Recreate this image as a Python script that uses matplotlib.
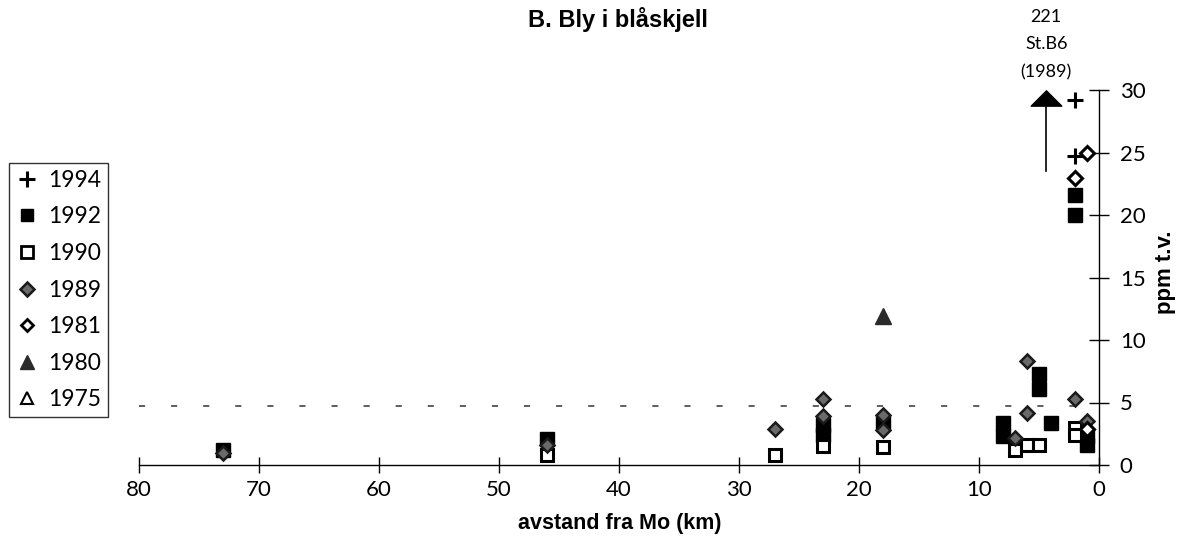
import matplotlib
matplotlib.use("Agg")
import matplotlib.pyplot as plt
from matplotlib.path import Path
from matplotlib.lines import Line2D

# ---------------- data (distance km, ppm t.v.) ----------------
x1994 = [2, 2]
y1994 = [29.2, 24.7]

x1992 = [73, 46, 23, 23, 18, 8, 8, 5, 5, 4, 2, 2, 1, 1]
y1992 = [1.2, 2.1, 3.2, 2.4, 3.4, 3.4, 2.3, 7.3, 6.1, 3.4, 21.6, 20.0, 2.3, 1.6]

x1990 = [46, 27, 23, 18, 7, 6, 5, 2, 2]
y1990 = [0.8, 0.8, 1.5, 1.45, 1.2, 1.6, 1.6, 3.0, 2.4]

x1989 = [73, 46, 27, 23, 23, 18, 18, 7, 6, 6, 2, 1]
y1989 = [1.0, 1.6, 2.9, 5.3, 3.9, 4.0, 2.8, 2.2, 8.3, 4.2, 5.3, 3.5]

x1981 = [1, 2, 1]
y1981 = [25.0, 23.0, 2.9]

x1980 = [18]
y1980 = [11.9]

x1975 = []
y1975 = []

# off-scale value at St.B6 (1989): 221 ppm, drawn as arrow at top
stb6_x = 4.4
stb6_y = 29.4
stb6_arrow_from = 23.5
stb6_label = ["221", "St.B6", "(1989)"]

limit_value = 4.7  # dashed reference line

xticks = [80, 70, 60, 50, 40, 30, 20, 10, 0]
yticks = [0, 5, 10, 15, 20, 25, 30]

# ---------------- figure ----------------
W, H = 1186, 558
fig = plt.figure(figsize=(W / 100, H / 100), dpi=100)
ax = fig.add_axes([139 / W, 1 - 465 / H, (1099 - 139) / W, (465 - 90) / H])

tick_font = "Lato"
bold_font = "Liberation Sans"

ax.set_xlim(80, 0)
ax.set_ylim(0, 30)
for s in ["top", "left"]:
    ax.spines[s].set_visible(False)
ax.spines["bottom"].set_linewidth(1.0)
ax.spines["right"].set_linewidth(1.0)
ax.yaxis.tick_right()
ax.yaxis.set_label_position("right")
ax.set_xticks(xticks)
ax.set_yticks(yticks)
ax.set_xticklabels([str(t) for t in xticks], fontfamily=tick_font, fontsize=16)
ax.set_yticklabels([str(t) for t in yticks], fontfamily=tick_font, fontsize=16)
ax.tick_params(axis="x", direction="inout", length=12, width=1, pad=5)
ax.tick_params(axis="y", direction="inout", length=14, width=1, pad=8)

# dashed reference line
ax.axhline(limit_value, color="#333333", lw=1.1, dashes=(4, 17), zorder=1)

common = dict(clip_on=False, linestyle="none")
ax.plot(x1992, y1992, marker="s", ms=10, mfc="black", mec="black", mew=1, zorder=3, **common)
ax.plot(x1990, y1990, marker="s", ms=9, mfc="white", mec="black", mew=2.2, zorder=4, **common)
ax.plot(x1989, y1989, marker="D", ms=7.5, mfc="#6a6a6a", mec="#1a1a1a", mew=1.8, zorder=5, **common)
ax.plot(x1981, y1981, marker="D", ms=7, mfc="white", mec="black", mew=2.2, zorder=6, **common)
ax.plot(x1980, y1980, marker="^", ms=12, mfc="#2a2a2a", mec="#2a2a2a", zorder=5, **common)
ax.plot(x1975, y1975, marker="^", ms=10, mfc="white", mec="black", mew=1.5, zorder=5, **common)
ax.plot(x1994, y1994, marker="+", ms=12, mec="black", mew=2.2, zorder=7, **common)

# St.B6 off-scale arrow
wide_tri = Path([(-1, -0.5), (1, -0.5), (0, 0.5), (-1, -0.5)],
                [Path.MOVETO, Path.LINETO, Path.LINETO, Path.CLOSEPOLY])
ax.plot([stb6_x, stb6_x], [stb6_arrow_from, stb6_y], color="black", lw=1.2, clip_on=False, zorder=6)
ax.plot([stb6_x], [stb6_y], marker=wide_tri, ms=22, mfc="black", mec="black", clip_on=False,
        linestyle="none", zorder=7)
for i, t in enumerate(stb6_label):
    ax.annotate(t, xy=(stb6_x, stb6_y), xytext=(0, 58 - i * 19.8), textcoords="offset points",
                ha="center", va="center", fontsize=13, fontfamily=tick_font)

# titles / labels
fig.text(618 / W, 1 - 19 / H, "B. Bly i blåskjell", ha="center", va="center",
         fontsize=17, fontweight="bold", fontfamily=bold_font)
fig.text(620 / W, 1 - 523 / H, "avstand fra Mo (km)", ha="center", va="center",
         fontsize=15.5, fontweight="bold", fontfamily=bold_font)
fig.text(1166 / W, 1 - 272 / H, "ppm t.v.", ha="center", va="center", rotation=90,
         fontsize=16, fontweight="bold", fontfamily=bold_font)

# legend
handles = [
    Line2D([], [], marker="+", ms=11, mec="black", mew=2.2, linestyle="none"),
    Line2D([], [], marker="s", ms=9, mfc="black", mec="black", linestyle="none"),
    Line2D([], [], marker="s", ms=8, mfc="white", mec="black", mew=2, linestyle="none"),
    Line2D([], [], marker="D", ms=7, mfc="#6a6a6a", mec="#1a1a1a", mew=1.8, linestyle="none"),
    Line2D([], [], marker="D", ms=6.5, mfc="white", mec="black", mew=2, linestyle="none"),
    Line2D([], [], marker="^", ms=10, mfc="#2a2a2a", mec="#2a2a2a", linestyle="none"),
    Line2D([], [], marker="^", ms=9, mfc="white", mec="black", mew=1.5, linestyle="none"),
]
labels = ["1994", "1992", "1990", "1989", "1981", "1980", "1975"]
leg = fig.legend(handles, labels, loc="upper left", bbox_to_anchor=(9 / W, 1 - 163 / H),
                 frameon=True, fancybox=False, shadow=False, edgecolor="black",
                 prop={"family": tick_font, "size": 16.5}, handlelength=1.0, handletextpad=0.4,
                 labelspacing=0.68, borderpad=0.3, borderaxespad=0)
leg.get_frame().set_linewidth(1.0)

fig.savefig("out.png", dpi=100)
